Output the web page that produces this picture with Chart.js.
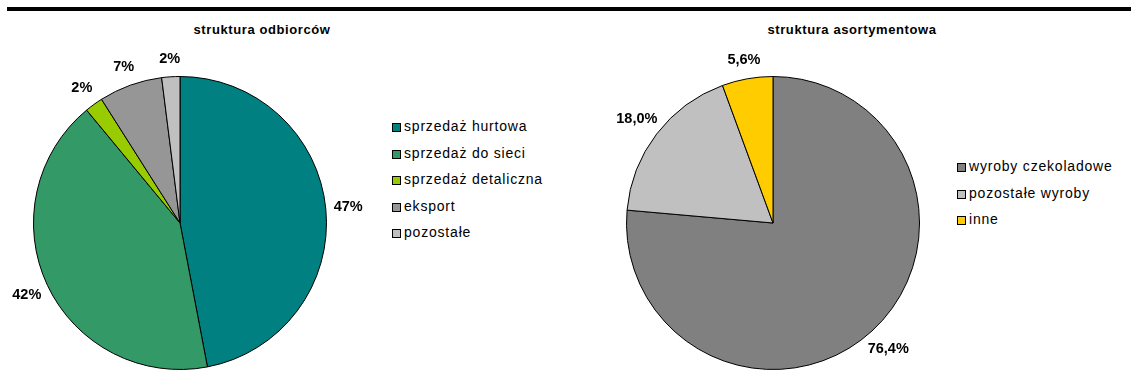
<!DOCTYPE html>
<html>
<head>
<meta charset="utf-8">
<script src="https://cdn.jsdelivr.net/npm/chart.js@4.4.1/dist/chart.umd.min.js"></script>
<style>
  html, body { margin: 0; padding: 0; background: #fff; }
  #wrap { position: relative; width: 1131px; height: 385px; overflow: hidden; font-family: "Liberation Sans", Arial, sans-serif; }
  #topline { position: absolute; left: 7px; top: 7px; width: 1124px; height: 4px; background: #000; }
  .title { position: absolute; top: 22px; font-weight: bold; font-size: 13px; color: #000; white-space: nowrap; transform: translateX(-50%); letter-spacing: 0.6px; }
  .legend { position: absolute; font-size: 14px; color: #000; }
  .legend div { position: relative; height: 26.5px; line-height: 15px; white-space: nowrap; padding-left: 12px; letter-spacing: 0.8px; }
  .legend span.sw { position: absolute; left: 0; top: 4px; width: 7px; height: 7px; border: 1px solid #000; }
  canvas { position: absolute; }
</style>
</head>
<body>
<div id="wrap">
  <div id="topline"></div>
  <div class="title" id="t1" style="left:262px;"></div>
  <div class="title" id="t2" style="left:852px;"></div>
  <div class="legend" id="lg1" style="left:392px; top:119px;"></div>
  <div class="legend" id="lg2" style="left:957px; top:159px;"></div>
  <div id="c1box" style="position:absolute;left:0;top:0;width:380px;height:385px;"><canvas id="c1"></canvas></div>
  <div id="c2box" style="position:absolute;left:560px;top:0;width:400px;height:385px;"><canvas id="c2"></canvas></div>
</div>
<script>
// ---- data ----
const title1 = "struktura odbiorców";
const categories1 = ["sprzedaż hurtowa", "sprzedaż do sieci", "sprzedaż detaliczna", "eksport", "pozostałe"];
const values1 = [47, 42, 2, 7, 2];
const colors1 = ["#008080", "#339966", "#99CC00", "#969696", "#C0C0C0"];

const title2 = "struktura asortymentowa";
const categories2 = ["wyroby czekoladowe", "pozostałe wyroby", "inne"];
const values2 = [76.4, 18.0, 5.6];
const colors2 = ["#808080", "#C0C0C0", "#FFCC00"];

// ---- helpers ----
function fmtPct(v, total, decimals) {
  const p = v / total * 100;
  return p.toFixed(decimals).replace('.', ',') + '%';
}

function buildLegend(id, cats, cols) {
  const el = document.getElementById(id);
  cats.forEach((c, i) => {
    const row = document.createElement('div');
    const sw = document.createElement('span');
    sw.className = 'sw';
    sw.style.background = cols[i];
    row.appendChild(sw);
    row.appendChild(document.createTextNode(c));
    el.appendChild(row);
  });
}

document.getElementById('t1').textContent = title1;
document.getElementById('t2').textContent = title2;
buildLegend('lg1', categories1, colors1);
buildLegend('lg2', categories2, colors2);

const outsideLabels = {
  id: 'outsideLabels',
  afterDatasetsDraw(chart, args, opts) {
    const ctx = chart.ctx;
    const meta = chart.getDatasetMeta(0);
    const data = chart.data.datasets[0].data;
    const total = data.reduce((a, b) => a + b, 0);
    ctx.save();
    ctx.font = 'bold 14.5px "Liberation Sans", Arial, sans-serif';
    ctx.fillStyle = '#000';
    ctx.textAlign = 'center';
    ctx.textBaseline = 'middle';
    meta.data.forEach((arc, i) => {
      const p = arc.getProps(['x', 'y', 'startAngle', 'endAngle', 'outerRadius'], true);
      const mid = (p.startAngle + p.endAngle) / 2;
      const txt = fmtPct(data[i], total, opts.decimals);
      const w = ctx.measureText(txt).width;
      const h = 12;
      const cx = Math.cos(mid), cy = Math.sin(mid);
      const proj = Math.abs(cx) * w / 2 + Math.abs(cy) * h / 2;
      const d = p.outerRadius + 15 + 0.5 * proj;
      ctx.fillText(txt, p.x + cx * d, p.y + cy * d);
    });
    ctx.restore();
  }
};

function makePie(canvasId, cats, vals, cols, padding, labelOpts) {
  return new Chart(document.getElementById(canvasId), {
    type: 'pie',
    data: {
      labels: cats,
      datasets: [{
        data: vals,
        backgroundColor: cols,
        borderColor: '#000',
        borderWidth: 1,
        hoverOffset: 0
      }]
    },
    options: {
      responsive: true,
      maintainAspectRatio: false,
      animation: false,
      layout: { padding: padding },
      plugins: {
        legend: { display: false },
        title: { display: false },
        tooltip: { enabled: false },
        outsideLabels: labelOpts
      }
    },
    plugins: [outsideLabels]
  });
}

makePie('c1', categories1, values1, colors1,
  { left: 33, top: 76, right: 53, bottom: 15 },
  { decimals: 0 });
makePie('c2', categories2, values2, colors2,
  { left: 66, top: 76, right: 40, bottom: 15 },
  { decimals: 1 });
</script>
</body>
</html>
